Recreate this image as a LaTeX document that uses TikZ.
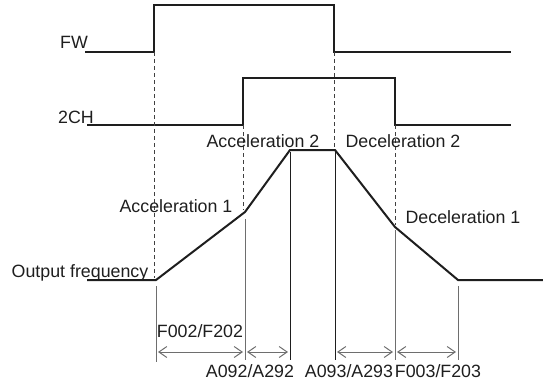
\documentclass[tikz,border=0pt]{standalone}
\usepackage{fontspec}
\setmainfont{Liberation Sans}
\usetikzlibrary{arrows.meta}
\definecolor{sig}{HTML}{1E1E1E}
\definecolor{guide}{HTML}{6E6E6E}
\begin{document}
\begin{tikzpicture}[x=1pt,y=-1pt,
  signal/.style={draw=sig,line width=2pt,line join=miter},
  dashguide/.style={draw=sig!85,line width=1pt,dash pattern=on 4pt off 3pt},
  vguide/.style={draw=guide,line width=1pt},
  vdark/.style={draw=sig,line width=1pt},
  span/.style={draw=guide,line width=1pt,{Straight Barb[length=8pt,width=11pt,line width=1pt]}-{Straight Barb[length=8pt,width=11pt,line width=1pt]}},
  lbl/.style={inner sep=0pt,anchor=base,font=\fontsize{17.8}{20}\selectfont,text=sig}]
\useasboundingbox (0,0) rectangle (543,383);
% FW
\coordinate (fw0) at (85,52);
\coordinate (fw1) at (154,52);
\coordinate (fw2) at (154,5);
\coordinate (fw3) at (334,5);
\coordinate (fw4) at (334,52);
\coordinate (fw5) at (511,52);
\draw[signal] (fw0) -- (fw1) -- (fw2) -- (fw3) -- (fw4) -- (fw5);
% 2CH
\coordinate (ch0) at (87,125);
\coordinate (ch1) at (243,125);
\coordinate (ch2) at (243,78);
\coordinate (ch3) at (395,78);
\coordinate (ch4) at (395,125);
\coordinate (ch5) at (511,125);
\draw[signal] (ch0) -- (ch1) -- (ch2) -- (ch3) -- (ch4) -- (ch5);
% output frequency
\coordinate (of0) at (87,280);
\coordinate (of1) at (156,280);
\coordinate (of2) at (245,212);
\coordinate (of3) at (290,150);
\coordinate (of4) at (335,150);
\coordinate (of5) at (395,227);
\coordinate (of6) at (458,280);
\coordinate (of7) at (543,280);
\draw[signal] (of0) -- (of1) -- (of2) -- (of3) -- (of4) -- (of5) -- (of6) -- (of7);
% dashed guides
\coordinate (d1) at (154,278);
\coordinate (d2) at (243,210);
\coordinate (d3) at (334,149);
\coordinate (d4) at (395,225);
\draw[dashguide] (fw1) -- (d1);
\draw[dashguide] (ch1) -- (d2);
\draw[dashguide] (fw4) -- (d3);
\draw[dashguide] (ch4) -- (d4);
% vertical solid guides
\coordinate (v1t) at (156,286); \coordinate (v1b) at (156,362);
\coordinate (v2t) at (245,219); \coordinate (v2b) at (245,360);
\coordinate (v3t) at (290,152); \coordinate (v3b) at (290,360);
\coordinate (v4t) at (335,152); \coordinate (v4b) at (335,360);
\coordinate (v5t) at (395,230); \coordinate (v5b) at (395,360);
\coordinate (v6t) at (458,286); \coordinate (v6b) at (458,360);
\draw[vguide] (v1t) -- (v1b);
\draw[vguide] (v2t) -- (v2b);
\draw[vdark] (v3t) -- (v3b);
\draw[vdark] (v4t) -- (v4b);
\draw[vguide] (v5t) -- (v5b);
\draw[vguide] (v6t) -- (v6b);
% spans
\coordinate (a1) at (158,352); \coordinate (a2) at (243,352);
\coordinate (a3) at (247,352); \coordinate (a4) at (288,352);
\coordinate (a5) at (337,352); \coordinate (a6) at (393,352);
\coordinate (a7) at (397,352); \coordinate (a8) at (456,352);
\draw[span] (a1) -- (a2);
\draw[span] (a3) -- (a4);
\draw[span] (a5) -- (a6);
\draw[span] (a7) -- (a8);
% labels
\node[lbl] (tfw) at (74,48) {FW};
\node[lbl] (tch) at (76,123) {2CH};
\node[lbl] (tac2) at (263,147) {Acceleration 2};
\node[lbl] (tdc2) at (403,147) {Deceleration 2};
\node[lbl] (tac1) at (176,212) {Acceleration 1};
\node[lbl] (tdc1) at (463,223) {Deceleration 1};
\node[lbl] (tof) at (80,277) {Output frequency};
\node[lbl] (tf002) at (200,337) {F002/F202};
\node[lbl] (ta092) at (250,377) {A092/A292};
\node[lbl] (ta093) at (349,377) {A093/A293};
\node[lbl] (tf003) at (438,377) {F003/F203};
\end{tikzpicture}
\end{document}
